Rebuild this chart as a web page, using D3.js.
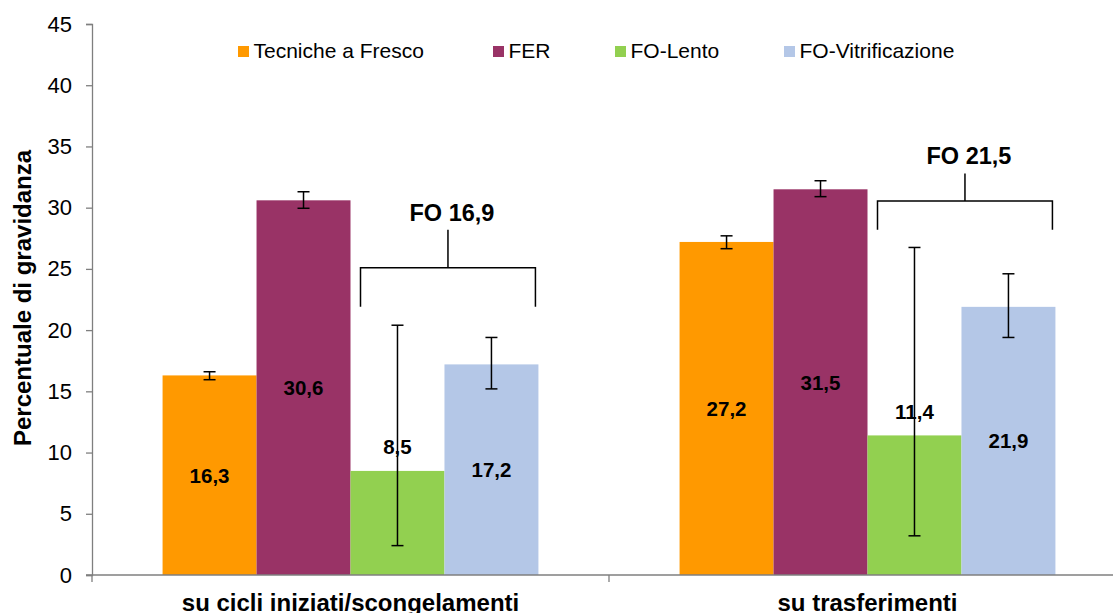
<!DOCTYPE html>
<html>
<head>
<meta charset="utf-8">
<script src="https://cdn.jsdelivr.net/npm/d3@7"></script>
<style>
  body { margin: 0; background: #fff; }
  svg { display: block; font-family: "Liberation Sans", Arial, sans-serif; }
</style>
</head>
<body>
<div id="chart"></div>
<script>
// data
const categories = ["su cicli iniziati/scongelamenti", "su trasferimenti"];
const seriesNames = ["Tecniche a Fresco", "FER", "FO-Lento", "FO-Vitrificazione"];
const seriesColors = ["#ff9900", "#993366", "#92d050", "#b4c7e7"];

// values per series, one per category
const fresco = [16.3, 27.2];
const fer = [30.6, 31.5];
const foLento = [8.5, 11.4];
const foVitri = [17.2, 21.9];

// error bar ranges (low, high) per series, one per category
const frescoErr = [[15.95, 16.6], [26.65, 27.7]];
const ferErr = [[29.95, 31.3], [30.9, 32.2]];
const foLentoErr = [[2.4, 20.4], [3.2, 26.75]];
const foVitriErr = [[15.2, 19.4], [19.4, 24.6]];

// FO totals and their bracket levels (leg end, bar, stem top)
const foTotals = ["FO 16,9", "FO 21,5"];
const bracketLow = [21.9, 28.2];
const bracketMid = [25.1, 30.55];
const bracketTop = [28.2, 32.8];

const yTicks = [0, 5, 10, 15, 20, 25, 30, 35, 40, 45];

const width = 1113;
const height = 613;
const x0 = 92, x1 = 1126, yBottom = 575, yTop = 24;

const values = [fresco, fer, foLento, foVitri];
const errors = [frescoErr, ferErr, foLentoErr, foVitriErr];

const svg = d3.select("#chart").append("svg")
    .attr("width", width)
    .attr("height", height);

const x = d3.scaleBand()
    .domain(categories)
    .range([x0, x1])
    .paddingInner(0.273)
    .paddingOuter(0.1365);

const xs = d3.scaleBand()
    .domain(seriesNames)
    .range([0, x.bandwidth()]);

const y = d3.scaleLinear()
    .domain([0, 45])
    .range([yBottom, yTop]);

// flatten into bar records
const bars = [];
categories.forEach((c, ci) => {
    seriesNames.forEach((s, si) => {
        bars.push({ cat: c, ci: ci, series: s, si: si, value: values[si][ci], err: errors[si][ci] });
    });
});

svg.append("g").selectAll("rect")
    .data(bars)
    .join("rect")
    .attr("x", d => x(d.cat) + xs(d.series))
    .attr("y", d => y(d.value))
    .attr("width", xs.bandwidth())
    .attr("height", d => y(0) - y(d.value))
    .style("fill", d => seriesColors[d.si]);

// axes
const axisColor = "#7f7f7f";
const yAxis = svg.append("g")
    .attr("transform", `translate(${x0},0)`)
    .call(d3.axisLeft(y).tickValues(yTicks).tickSize(6).tickPadding(14));
yAxis.select(".domain").attr("stroke", axisColor).attr("stroke-width", 1.3);
yAxis.selectAll(".tick line").attr("stroke", axisColor).attr("stroke-width", 1.3);
yAxis.selectAll(".tick text")
    .attr("fill", "#000")
    .style("font-size", "22px")
    .style("font-family", "\"Liberation Sans\", Arial, sans-serif");

const xAxis = svg.append("g");
xAxis.append("line")
    .attr("x1", x0 - 6).attr("x2", width)
    .attr("y1", yBottom).attr("y2", yBottom)
    .attr("stroke", axisColor).attr("stroke-width", 1.5);
const boundaries = [x0, x0 + x.step(), x0 + 2 * x.step()];
xAxis.selectAll(".xtick")
    .data(boundaries)
    .join("line")
    .attr("x1", d => d).attr("x2", d => d)
    .attr("y1", yBottom).attr("y2", yBottom + 7)
    .attr("stroke", axisColor).attr("stroke-width", 1.3);
xAxis.selectAll(".xlab")
    .data(categories)
    .join("text")
    .attr("x", d => x(d) + x.bandwidth() / 2)
    .attr("y", 611)
    .attr("text-anchor", "middle")
    .style("font-size", "24px")
    .style("font-weight", "bold")
    .text(d => d);

svg.append("text")
    .attr("transform", `translate(31,298) rotate(-90)`)
    .attr("text-anchor", "middle")
    .style("font-size", "24px")
    .style("font-weight", "bold")
    .text("Percentuale di gravidanza");

// error bars
const eb = svg.append("g").selectAll("g")
    .data(bars)
    .join("g")
    .attr("stroke", "#000")
    .attr("stroke-width", 1.5);
const cx = d => x(d.cat) + xs(d.series) + xs.bandwidth() / 2;
eb.append("line")
    .attr("x1", cx).attr("x2", cx)
    .attr("y1", d => y(d.err[0])).attr("y2", d => y(d.err[1]));
eb.append("line")
    .attr("x1", d => cx(d) - 6).attr("x2", d => cx(d) + 6)
    .attr("y1", d => y(d.err[0])).attr("y2", d => y(d.err[0]));
eb.append("line")
    .attr("x1", d => cx(d) - 6).attr("x2", d => cx(d) + 6)
    .attr("y1", d => y(d.err[1])).attr("y2", d => y(d.err[1]));

// value labels (FO-Lento labels sit above the short bar)
const fmt = v => d3.format(".1f")(v).replace(".", ",");
svg.append("g").selectAll("text")
    .data(bars)
    .join("text")
    .attr("x", cx)
    .attr("y", d => d.si === 2 ? y(d.value) - 24 : (y(d.value) + y(0)) / 2)
    .attr("dy", "0.36em")
    .attr("text-anchor", "middle")
    .style("font-size", "20.5px")
    .style("font-weight", "bold")
    .text(d => fmt(d.value));

// FO brackets
const br = svg.append("g").selectAll("g")
    .data(categories)
    .join("g");
const bl = (d, i) => x(d) + xs(seriesNames[2]) + 10;
const brr = (d, i) => x(d) + xs(seriesNames[3]) + xs.bandwidth() - 3;
const bm = (d, i) => (bl(d, i) + brr(d, i)) / 2;
br.append("path")
    .attr("fill", "none")
    .attr("stroke", "#000")
    .attr("stroke-width", 1.5)
    .attr("d", (d, i) => `M${bl(d, i)},${y(bracketLow[i])}V${y(bracketMid[i])}H${brr(d, i)}V${y(bracketLow[i])}` +
        `M${bm(d, i)},${y(bracketMid[i])}V${y(bracketTop[i])}`);
br.append("text")
    .attr("x", (d, i) => bm(d, i) + 4)
    .attr("y", (d, i) => y(bracketTop[i]) - 9)
    .attr("text-anchor", "middle")
    .style("font-size", "23.5px")
    .style("font-weight", "bold")
    .text((d, i) => foTotals[i]);

// legend
const legendX = [238, 493, 615, 784];
const legend = svg.append("g").selectAll("g")
    .data(seriesNames)
    .join("g")
    .attr("transform", (d, i) => `translate(${legendX[i]},46)`);
legend.append("rect")
    .attr("width", 11).attr("height", 11)
    .style("fill", (d, i) => seriesColors[i]);
legend.append("text")
    .attr("x", 15.5)
    .attr("y", 12)
    .style("font-size", "21px")
    .text(d => d);
</script>
</body>
</html>
